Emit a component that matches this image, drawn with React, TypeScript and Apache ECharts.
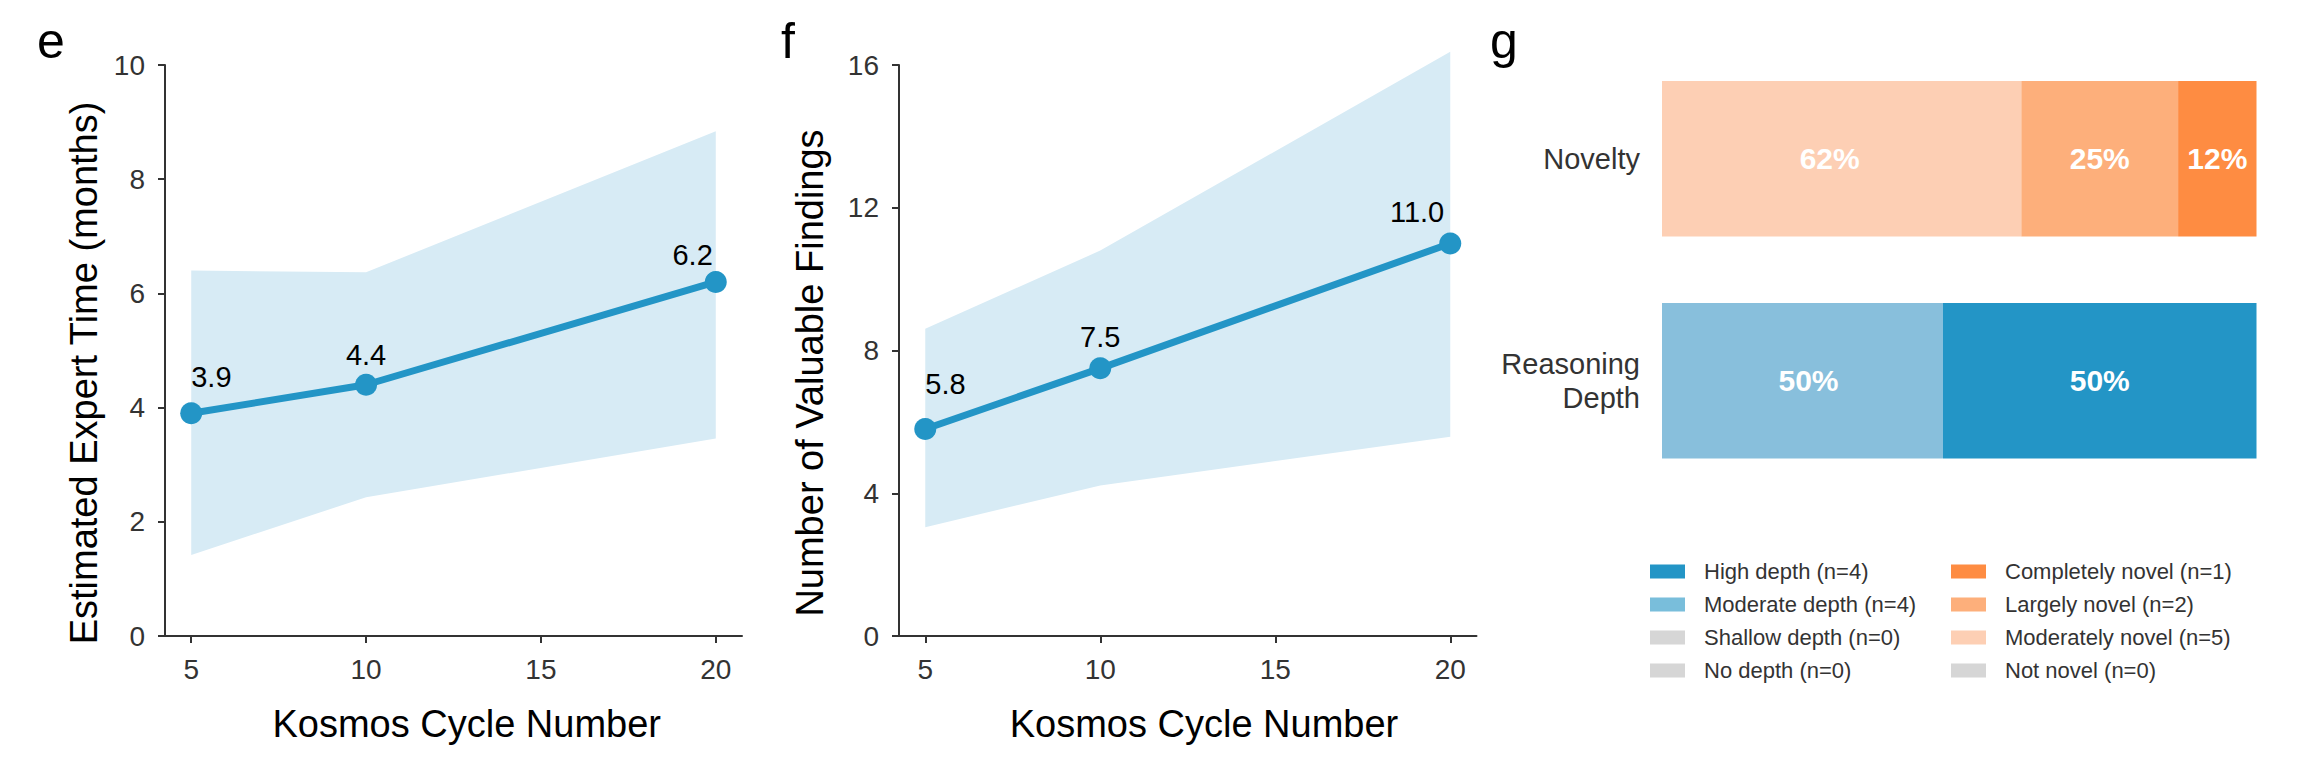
import React, { useEffect, useRef } from "react";
import * as echarts from "echarts";

// ---------- data ----------
const CYCLES = [5, 10, 20];
const X_TICKS = [5, 10, 15, 20];

const EXPERT_TIME = [3.9, 4.4, 6.2];
const EXPERT_TIME_LOWER = [1.42, 2.43, 3.46];
const EXPERT_TIME_UPPER = [6.4, 6.37, 8.84];

const FINDINGS = [5.8, 7.5, 11.0];
const FINDINGS_LOWER = [3.05, 4.22, 5.58];
const FINDINGS_UPPER = [8.61, 10.8, 16.37];

const BAR_CATEGORIES = ["Reasoning Depth", "Novelty"];
const DEPTH_LEVELS = ["No depth", "Shallow depth", "Moderate depth", "High depth"];
const DEPTH_COUNTS = [0, 0, 4, 4];
const NOVELTY_LEVELS = ["Not novel", "Moderately novel", "Largely novel", "Completely novel"];
const NOVELTY_COUNTS = [0, 5, 2, 1];

// ---------- styles ----------
const FONT = "'Liberation Sans', Arial, Helvetica, sans-serif";
const LINE_COLOR = "#2395c6";
const BAND_COLOR = "#d7ebf5";
const AXIS_COLOR = "#333333";
const TICK_TEXT = "#333333";
const DEPTH_BAR_COLORS = ["#d6d6d6", "#d6d6d6", "#88bfdc", "#2395c6"];
const DEPTH_LEGEND_COLORS = ["#d6d6d6", "#d6d6d6", "#79bedb", "#2395c6"];
const NOVELTY_COLORS = ["#d6d6d6", "#fdcfb4", "#fdaf7b", "#fe8c42"];
const DEPTH_LABEL_DX = [0, 0, 6, 0];
const NOVELTY_LABEL_DX = [0, -12, 0, 0];

// label placement (style only): [align, dx, dy]
const E_LABEL_PLACE: [string, number, number][] = [
  ["left", 0, -36],
  ["center", 0, -30],
  ["right", -3, -27],
];
const F_LABEL_PLACE: [string, number, number][] = [
  ["left", 0, -45],
  ["center", 0, -31],
  ["right", -6, -31],
];

function roundHalfEven(v: number): number {
  const f = Math.floor(v);
  const d = v - f;
  if (Math.abs(d - 0.5) < 1e-9) return f % 2 === 0 ? f : f + 1;
  return Math.round(v);
}

function lineSeries(
  idx: number,
  values: number[],
  lower: number[],
  upper: number[],
  place: [string, number, number][]
) {
  return [
    {
      type: "custom",
      xAxisIndex: idx,
      yAxisIndex: idx,
      silent: true,
      z: 1,
      data: CYCLES.map((x, i) => [x, lower[i], upper[i]]),
      encode: { x: 0, y: [1, 2] },
      renderItem: (params: any, api: any) => {
        if (params.dataIndex !== 0) return null;
        const top = CYCLES.map((x, i) => api.coord([x, upper[i]]));
        const bottom = CYCLES.map((x, i) => api.coord([x, lower[i]])).reverse();
        return {
          type: "polygon",
          shape: { points: top.concat(bottom) },
          style: { fill: BAND_COLOR },
        };
      },
    },
    {
      type: "line",
      xAxisIndex: idx,
      yAxisIndex: idx,
      data: CYCLES.map((x, i) => ({
        value: [x, values[i]],
        label: {
          position: "inside",
          align: place[i][0],
          verticalAlign: "middle",
          offset: [place[i][1], place[i][2]],
        },
      })),
      symbol: "circle",
      symbolSize: 22,
      lineStyle: { width: 7, color: LINE_COLOR },
      itemStyle: { color: LINE_COLOR },
      label: {
        show: true,
        fontSize: 29,
        color: "#000",
        fontFamily: FONT,
        formatter: (p: any) => p.value[1].toFixed(1),
      },
      z: 3,
    },
  ];
}

function lineAxes(idx: number, yMax: number, yInterval: number) {
  const xAxis = {
    type: "value",
    gridIndex: idx,
    min: 4.25,
    max: 20.75,
    splitLine: { show: false },
    axisLine: { show: true, onZero: false, lineStyle: { color: AXIS_COLOR, width: 2 } },
    axisTick: { show: true, customValues: X_TICKS, length: 7, lineStyle: { color: AXIS_COLOR, width: 2 } },
    axisLabel: { customValues: X_TICKS, fontSize: 28, color: TICK_TEXT, margin: 19, fontFamily: FONT },
  };
  const yAxis = {
    type: "value",
    gridIndex: idx,
    min: 0,
    max: yMax,
    interval: yInterval,
    splitLine: { show: false },
    axisLine: { show: true, onZero: false, lineStyle: { color: AXIS_COLOR, width: 2 } },
    axisTick: { show: true, length: 7, lineStyle: { color: AXIS_COLOR, width: 2 } },
    axisLabel: { fontSize: 28, color: TICK_TEXT, margin: 20, fontFamily: FONT },
  };
  return { xAxis, yAxis };
}

function barSeries() {
  const depthTotal = DEPTH_COUNTS.reduce((a, b) => a + b, 0);
  const noveltyTotal = NOVELTY_COUNTS.reduce((a, b) => a + b, 0);
  const barLabel = {
    show: true,
    position: "inside",
    color: "#fff",
    fontWeight: "bold",
    fontSize: 30,
    fontFamily: FONT,
    formatter: (p: any) => (p.value > 0 ? roundHalfEven(p.value) + "%" : ""),
  };
  const depth = DEPTH_LEVELS.map((lvl, i) => ({
    type: "bar",
    name: `${lvl} (n=${DEPTH_COUNTS[i]})`,
    stack: "total",
    xAxisIndex: 2,
    yAxisIndex: 2,
    barWidth: "70%",
    itemStyle: { color: DEPTH_LEGEND_COLORS[i] },
    label: barLabel,
    data: [
      {
        value: (DEPTH_COUNTS[i] / depthTotal) * 100,
        itemStyle: { color: DEPTH_BAR_COLORS[i] },
        label: { offset: [DEPTH_LABEL_DX[i], 0] },
      },
      "-",
    ],
  }));
  const novelty = NOVELTY_LEVELS.map((lvl, i) => ({
    type: "bar",
    name: `${lvl} (n=${NOVELTY_COUNTS[i]})`,
    stack: "total",
    xAxisIndex: 2,
    yAxisIndex: 2,
    barWidth: "70%",
    itemStyle: { color: NOVELTY_COLORS[i] },
    label: barLabel,
    data: [
      "-",
      {
        value: (NOVELTY_COUNTS[i] / noveltyTotal) * 100,
        label: { offset: [NOVELTY_LABEL_DX[i], 0] },
      },
    ],
  }));
  return { depth, novelty };
}

export default function App() {
  const ref = useRef<HTMLDivElement>(null);

  useEffect(() => {
    if (!ref.current) return;
    const chart = echarts.init(ref.current, undefined, { renderer: "svg" });
    const e = lineAxes(0, 10, 2);
    const f = lineAxes(1, 16, 4);
    const bars = barSeries();

    const legendCommon = {
      orient: "vertical",
      padding: 0,
      itemWidth: 35,
      itemHeight: 14,
      itemGap: 11,
      icon: "rect",
      selectedMode: false,
      formatter: (n: string) => `{t|${n}}`,
      textStyle: {
        rich: {
          t: { fontSize: 22, lineHeight: 22, color: "#333", padding: [0, 0, 0, 14], fontFamily: FONT },
        },
      },
    };

    const option: any = {
      animation: false,
      backgroundColor: "#ffffff",
      textStyle: { fontFamily: FONT },
      grid: [
        { left: 165, top: 65, width: 577, height: 571 },
        { left: 899, top: 65, width: 577.5, height: 571 },
        { left: 1662, top: 47.8, width: 594.5, height: 444 },
      ],
      xAxis: [
        e.xAxis,
        f.xAxis,
        {
          type: "value",
          gridIndex: 2,
          min: 5.2,
          max: 100,
          show: false,
          splitLine: { show: false },
        },
      ],
      yAxis: [
        e.yAxis,
        f.yAxis,
        {
          type: "category",
          gridIndex: 2,
          data: BAR_CATEGORIES,
          axisLine: { show: false },
          axisTick: { show: false },
          splitLine: { show: false },
          axisLabel: {
            margin: 22,
            fontSize: 29,
            lineHeight: 34,
            color: "#333",
            align: "right",
            fontFamily: FONT,
            formatter: (v: string) => v.replace(" ", "\n"),
          },
        },
      ],
      legend: [
        {
          ...legendCommon,
          left: 1650,
          top: 560.5,
          data: bars.depth.map((s) => s.name).reverse(),
        },
        {
          ...legendCommon,
          left: 1951,
          top: 560.5,
          data: bars.novelty.map((s) => s.name).reverse(),
        },
      ],
      series: [
        ...lineSeries(0, EXPERT_TIME, EXPERT_TIME_LOWER, EXPERT_TIME_UPPER, E_LABEL_PLACE),
        ...lineSeries(1, FINDINGS, FINDINGS_LOWER, FINDINGS_UPPER, F_LABEL_PLACE),
        ...bars.depth,
        ...bars.novelty,
      ],
      graphic: [
        { type: "text", x: 37, y: 41, style: { text: "e", fontSize: 50, fontFamily: FONT, fill: "#000", textAlign: "left", textVerticalAlign: "middle" } },
        { type: "text", x: 781, y: 41, style: { text: "f", fontSize: 50, fontFamily: FONT, fill: "#000", textAlign: "left", textVerticalAlign: "middle" } },
        { type: "text", x: 1490, y: 41, style: { text: "g", fontSize: 50, fontFamily: FONT, fill: "#000", textAlign: "left", textVerticalAlign: "middle" } },
        { type: "text", x: 84, y: 373, rotation: Math.PI / 2, style: { text: "Estimated Expert Time (months)", fontSize: 38, fontFamily: FONT, fill: "#000", textAlign: "center", textVerticalAlign: "middle" } },
        { type: "text", x: 810, y: 373, rotation: Math.PI / 2, style: { text: "Number of Valuable Findings", fontSize: 38, fontFamily: FONT, fill: "#000", textAlign: "center", textVerticalAlign: "middle" } },
        { type: "text", x: 466.7, y: 724, style: { text: "Kosmos Cycle Number", fontSize: 38, fontFamily: FONT, fill: "#000", textAlign: "center", textVerticalAlign: "middle" } },
        { type: "text", x: 1204, y: 724, style: { text: "Kosmos Cycle Number", fontSize: 38, fontFamily: FONT, fill: "#000", textAlign: "center", textVerticalAlign: "middle" } },
      ],
    };

    chart.setOption(option);
    return () => chart.dispose();
  }, []);

  return (
    <div
      ref={ref}
      style={{ position: "fixed", left: 0, top: 0, width: 2302, height: 764, background: "#fff" }}
    />
  );
}
